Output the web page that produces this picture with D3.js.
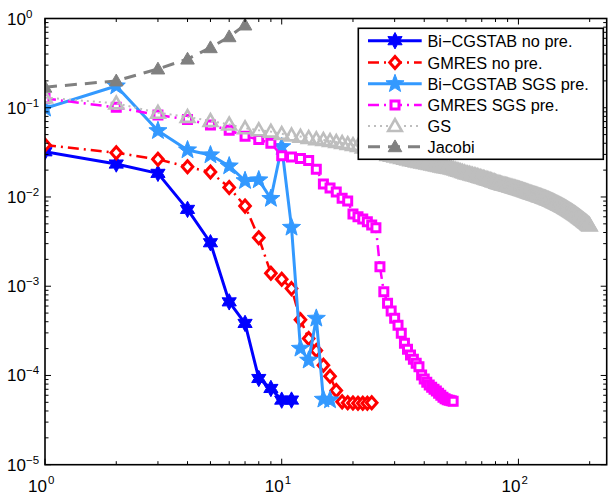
<!DOCTYPE html>
<html><head><meta charset="utf-8">
<script src="https://cdn.jsdelivr.net/npm/d3@7"></script>
<style>
body{margin:0;background:#fff}
svg{display:block}
text{font-family:"Liberation Sans",Arial,Helvetica,sans-serif;fill:#000}
</style>
</head><body>
<svg id="chart" width="610" height="498"></svg>
<script>
// ---------------- data ----------------
const seriesNames = ["Bi\u2212CGSTAB no pre.", "GMRES no pre.", "Bi\u2212CGSTAB SGS pre.", "GMRES SGS pre.", "GS", "Jacobi"];

const bicgNoPre = [0.0321,0.0234,0.0184,0.00726,0.00307,0.000668,0.000383,0.0000925,0.0000715,0.0000529,0.000053];

const gmresNoPre = [0.0382,0.0313,0.0264,0.0218,0.019,0.0128,0.0079,0.0035,0.0014,0.0012,0.00094,0.00042,0.00026,0.00019,0.00013,0.000098,0.000068,0.0000506,0.0000495,0.000049,0.0000488,0.0000488,0.0000487,0.0000495];

const bicgSgs = [0.0985,0.175,0.0552,0.0336,0.0295,0.0222,0.0152,0.0155,0.0096,0.0365,0.00456,0.000201,0.000148,0.000436,0.000054,0.000053];

const gmresSgs = [0.127,0.101,0.083,0.074,0.064,0.056,0.048,0.044,0.040,0.029,0.028,0.027,0.0256,0.0205,0.014,0.0126,0.01135,0.0097,0.009,0.00643,0.006,0.00565,0.00527,0.00484,0.00452,
  0.00165,0.000865,0.000646,0.000526,0.000439,0.000366,0.000298,0.00023,0.000197,0.000169,0.000152,0.000137,0.000125,0.000101,0.000091,0.000084,0.000078,0.000074,0.00007,0.000067,0.000063,0.00006,0.000057,0.000055,0.0000535,0.0000528,0.000052,0.0000515];

const gs = [0.130,0.112,0.088,0.079,0.071,0.065,0.059,0.056,0.054,0.051,
  0.049,0.0475,0.046,0.0445,0.0435,0.0425,0.0413,0.0403,0.0392,0.0382,
  0.0372,0.036,0.0348,0.0337,0.0326,0.0315,0.0305,0.0295,0.029,0.0284,
  0.0279,0.0274,0.0269,0.0264,0.0259,0.0255,0.025,0.0247,0.0244,0.0241,
  0.0238,0.0235,0.0232,0.0229,0.0226,0.0223,0.022,0.0217,0.0215,0.0213,
  0.0211,0.0209,0.0206,0.0203,0.02,0.0197,0.0194,0.0191,0.0188,0.0185,
  0.0183,0.0181,0.0179,0.0177,0.0175,0.0173,0.0171,0.0169,0.0167,0.0165,
  0.0163,0.0161,0.0159,0.0157,0.0156,0.0154,0.0152,0.015,0.0149,0.0147,
  0.0145,0.0144,0.0142,0.0141,0.0139,0.0138,0.0137,0.0136,0.01349,0.01337,
  0.01326,0.01315,0.01304,0.01293,0.01282,0.01271,0.0126,0.0125,0.0124,0.0123,
  0.0122,0.0121,0.012,0.0119,0.0118,0.0117,0.0116,0.0115,0.0114,0.0113,
  0.0112,0.0111,0.01102,0.01094,0.01085,0.01077,0.01069,0.01061,0.01053,0.01045,
  0.01037,0.01029,0.01021,0.01014,0.01006,0.00998,0.0099,0.00983,0.00975,0.00968,
  0.0096,0.00953,0.00945,0.00938,0.0093,0.00923,0.00915,0.00906,0.00898,0.0089,
  0.00882,0.00874,0.00866,0.00858,0.0085,0.00842,0.00835,0.00827,0.0082,0.00812,
  0.00805,0.00798,0.0079,0.00783,0.00776,0.00768,0.0076,0.00753,0.00745,0.00738,
  0.0073,0.00723,0.00716,0.00709,0.00702,0.00695,0.00688,0.00681,0.00674,0.00667,
  0.0066,0.00653,0.00647,0.0064,0.00633,0.00626,0.00619,0.00612,0.00606,0.00599,
  0.00593,0.00586,0.0058,0.00573,0.00567,0.00561,0.00555,0.00549,0.00543,0.00537,
  0.00531,0.00525,0.00519,0.00514,0.00508,0.00502,0.00497,0.00491,0.00486,0.0048];

const jacobi = [0.17,0.2,0.272,0.351,0.471,0.625,0.846];

const xTickExps = [0,1,2];
const yTickExps = [0,-1,-2,-3,-4,-5];

// ---------------- layout ----------------
const svg = d3.select("#chart");
const L = 45, R = 606.7, T = 18.5, B = 464.7;
const x = d3.scaleLog().domain([1, 236]).range([L, R]);
const y = d3.scaleLog().domain([1e-5, 1]).range([B, T]);

svg.append("defs").append("clipPath").attr("id","clip")
  .append("rect").attr("x",L).attr("y",T).attr("width",R-L).attr("height",B-T);

function starPath(n, Ro, Ri){
  const p=[];
  for(let i=0;i<2*n;i++){
    const a=-Math.PI/2+i*Math.PI/n, r=i%2?Ri:Ro;
    p.push([(r*Math.cos(a)).toFixed(2),(r*Math.sin(a)).toFixed(2)]);
  }
  return "M"+p.join("L")+"Z";
}
const shapes = {
  hexagram: starPath(6, 8.2, 4.6),
  pentagram: starPath(5, 9.5, 4.0),
  diamond: "M0,-6L5.3,0L0,6L-5.3,0Z",
  square: "M-4,-4H4V4H-4Z",
  triangle: "M0,-6.8L6.8,5H-6.8Z"
};

const styles = [
  {data:bicgNoPre, color:"#0000ff", width:3, dash:null, shape:"hexagram", fill:"#0000ff", mw:1},
  {data:gmresNoPre, color:"#ff0000", width:2.5, dash:"11,5,2,5", shape:"diamond", fill:"#ffffff", mw:3},
  {data:bicgSgs, color:"#3399ff", width:3, dash:null, shape:"pentagram", fill:"#3399ff", mw:1},
  {data:gmresSgs, color:"#ff00ff", width:2.5, dash:"11,5,2,5", shape:"square", fill:"#ffffff", mw:3},
  {data:gs, color:"#bebebe", width:2, dash:"2,4", shape:"triangle", fill:"none", mw:2.6},
  {data:jacobi, color:"#808080", width:3, dash:"12,8", shape:"triangle", fill:"#808080", mw:1}
];

const plot = svg.append("g").attr("clip-path","url(#clip)");
const line = d3.line().x(d=>x(d[0])).y(d=>y(d[1]));

styles.forEach((s,i)=>{
  const pts = s.data.map((v,k)=>[k+1,v]);
  const g = plot.append("g");
  g.append("path").attr("d", line(pts)).attr("fill","none")
    .attr("stroke", s.color).attr("stroke-width", s.width)
    .attr("stroke-dasharray", s.dash).attr("stroke-linejoin","round");
  g.selectAll("path.m").data(pts).join("path").attr("class","m")
    .attr("d", shapes[s.shape])
    .attr("transform", d=>`translate(${x(d[0])},${y(d[1])})`)
    .attr("fill", s.fill).attr("stroke", s.color).attr("stroke-width", s.mw)
    .attr("stroke-linejoin","miter");
});

// ---------------- axes: ticks inside on all sides ----------------
const ax = svg.append("g").attr("stroke","#000");
const xMinor=[], yMinor=[];
for(let e=0;e<=2;e++) for(let k=2;k<=9;k++){ const v=k*Math.pow(10,e); if(v<=236) xMinor.push(v); }
for(let e=-5;e<0;e++) for(let k=2;k<=9;k++) yMinor.push(k*Math.pow(10,e));
const maj=6, mnr=3.5;
xTickExps.forEach(e=>{ const px=x(Math.pow(10,e));
  ax.append("line").attr("x1",px).attr("x2",px).attr("y1",B).attr("y2",B-maj).attr("stroke-width",1);
  ax.append("line").attr("x1",px).attr("x2",px).attr("y1",T).attr("y2",T+maj).attr("stroke-width",1);
});
xMinor.forEach(v=>{ const px=x(v);
  ax.append("line").attr("x1",px).attr("x2",px).attr("y1",B).attr("y2",B-mnr).attr("stroke-width",1);
  ax.append("line").attr("x1",px).attr("x2",px).attr("y1",T).attr("y2",T+mnr).attr("stroke-width",1);
});
yTickExps.forEach(e=>{ const py=y(Math.pow(10,e));
  ax.append("line").attr("x1",L).attr("x2",L+maj).attr("y1",py).attr("y2",py).attr("stroke-width",1);
  ax.append("line").attr("x1",R).attr("x2",R-maj).attr("y1",py).attr("y2",py).attr("stroke-width",1);
});
yMinor.forEach(v=>{ const py=y(v);
  ax.append("line").attr("x1",L).attr("x2",L+mnr).attr("y1",py).attr("y2",py).attr("stroke-width",1);
  ax.append("line").attr("x1",R).attr("x2",R-mnr).attr("y1",py).attr("y2",py).attr("stroke-width",1);
});
ax.append("rect").attr("x",L).attr("y",T).attr("width",R-L).attr("height",B-T)
  .attr("fill","none").attr("stroke-width",1.6);

// tick labels
const lab = svg.append("g");
const expStr = e => (e<0?"\u2212":"")+Math.abs(e);
yTickExps.forEach(e=>{ const py=y(Math.pow(10,e));
  lab.append("text").attr("x",7).attr("y",py+6).attr("font-size",17).text("10");
  lab.append("text").attr("x",26).attr("y",py-1).attr("font-size",11.5).text(expStr(e));
});
xTickExps.forEach(e=>{ const px=x(Math.pow(10,e));
  lab.append("text").attr("x",px+2).attr("y",492).attr("font-size",17).attr("text-anchor","end").text("10");
  lab.append("text").attr("x",px+3).attr("y",484).attr("font-size",11.5).text(expStr(e));
});

// ---------------- legend ----------------
const lg = svg.append("g");
lg.append("rect").attr("x",358.3).attr("y",28.3).attr("width",245).attr("height",131)
  .attr("fill","#fff").attr("stroke","#000").attr("stroke-width",1.6);
const rowY = [40.7,62.5,83.8,105,126,146.7];
styles.forEach((s,i)=>{
  const yy=rowY[i];
  lg.append("line").attr("x1",368).attr("x2",421.7).attr("y1",yy).attr("y2",yy)
    .attr("stroke",s.color).attr("stroke-width",s.width).attr("stroke-dasharray",s.dash);
  lg.append("path").attr("d",shapes[s.shape]).attr("transform",`translate(395,${yy})`)
    .attr("fill", s.fill==="none"?"#fff":s.fill).attr("stroke",s.color).attr("stroke-width",s.mw);
  lg.append("text").attr("x",427.5).attr("y",yy+6).attr("font-size",16.3).text(seriesNames[i]);
});
</script>
</body></html>
